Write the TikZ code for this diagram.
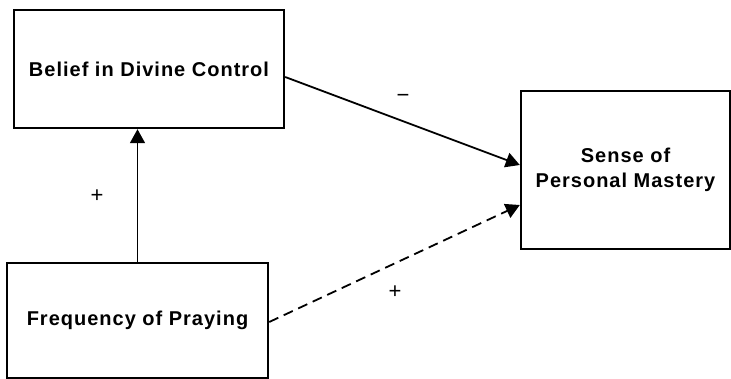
\documentclass[tikz,border=0pt]{standalone}
\usepackage{fontspec}
\setmainfont{Liberation Sans}
\newfontfamily\boxfont[LetterSpace=5]{Liberation Sans}
\usetikzlibrary{arrows.meta}
\begin{document}
\begin{tikzpicture}[x=1pt,y=-1pt,
  varbox/.style={draw, line width=2.4pt, inner sep=0pt, align=center,
    font=\boxfont\bfseries\fontsize{20}{25}\selectfont},
  link/.style={line width=1.8pt, -{Triangle[length=14pt,width=15pt]}},
  sign/.style={font=\fontsize{22}{22}\selectfont, inner sep=0pt}]
  \useasboundingbox (0,0) rectangle (731,379);
  % the three variables
  \node[varbox, minimum width=270pt, minimum height=118pt] (belief) at (149,69) {Belief in Divine Control};
  \node[varbox, minimum width=209pt, minimum height=158pt] (mastery) at (625.5,170) {Sense of\\Personal Mastery};
  \node[varbox, minimum width=261pt, minimum height=115pt] (praying) at (137.5,320.5) {Frequency of Praying};
  % paths between them
  \draw[link] (praying.north) -- (praying.north |- belief.south);
  \draw[link] ([yshift=-8pt]belief.east) -- ([yshift=5pt]mastery.west);
  \draw[link, dash pattern=on 10pt off 6pt] ([yshift=-1.5pt]praying.east) -- ([yshift=-35pt]mastery.west);
  % signs of the effects
  \node[sign] (s1) at (97,196) {+};
  \node[sign] (s2) at (403,98) {−};
  \node[sign] (s3) at (395,292) {+};
\end{tikzpicture}
\end{document}
